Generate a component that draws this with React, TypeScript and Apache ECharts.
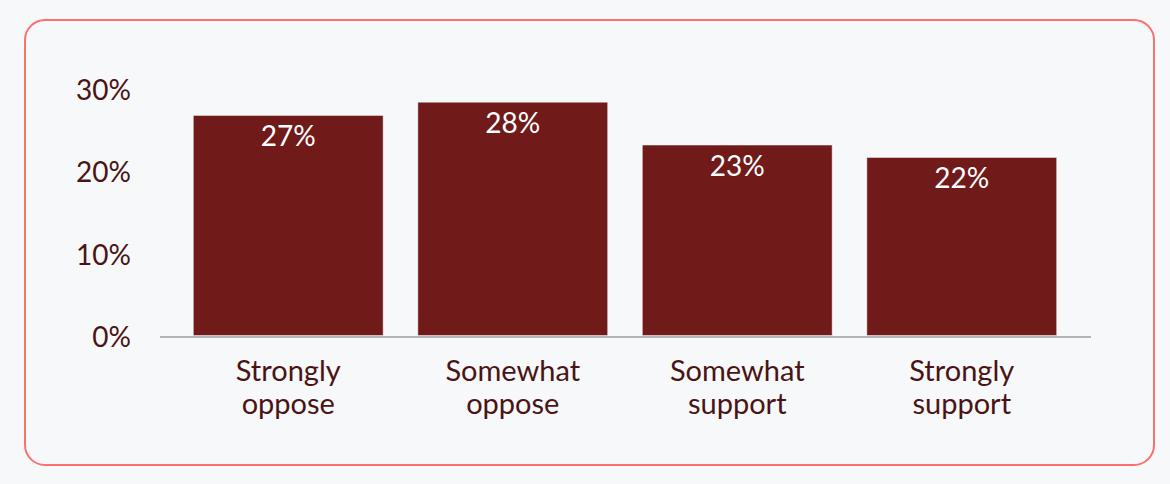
import React, { useEffect, useRef } from "react";
import * as echarts from "echarts";

const categories = ["Strongly\noppose", "Somewhat\noppose", "Somewhat\nsupport", "Strongly\nsupport"];
const values = [26.8, 28.4, 23.2, 21.7];
const yTicks = [0, 10, 20, 30];

const TEXT = "#4a1414";
const BAR = "#701a1a";

export default function App() {
  const ref = useRef<HTMLDivElement>(null);
  useEffect(() => {
    document.body.style.margin = "0";
    const chart = echarts.init(ref.current!, undefined, { renderer: "svg" });
    chart.setOption({
      animation: false,
      backgroundColor: "#f7f8fa",
      textStyle: { fontFamily: "Lato" },
      grid: { left: 176, right: 96, top: 88.5, bottom: 148, containLabel: false },
      graphic: [
        {
          type: "rect",
          shape: { x: 25, y: 20, width: 1129, height: 445, r: 20 },
          style: { fill: "none", stroke: "#ff6f6f", lineWidth: 2 },
          silent: true,
        },
        {
          type: "line",
          shape: { x1: 160, y1: 337, x2: 1091, y2: 337 },
          style: { stroke: "#b4b4b4", lineWidth: 2 },
          silent: true,
          z: 10,
        },
      ],
      xAxis: {
        type: "category",
        data: categories,
        axisLine: { show: false },
        axisTick: { show: false },
        axisLabel: { color: TEXT, fontSize: 29, lineHeight: 33, margin: 17, fontFamily: "Lato" },
      },
      yAxis: {
        type: "value",
        min: 0,
        max: yTicks[yTicks.length - 1],
        interval: 10,
        splitLine: { show: false },
        axisLine: { show: false },
        axisTick: { show: false },
        axisLabel: { color: TEXT, fontSize: 28, margin: 45, formatter: (v: number) => v + "%", fontFamily: "Lato" },
      },
      series: [
        {
          type: "bar",
          data: values,
          barCategoryGap: "15%",
          itemStyle: { color: BAR, borderColor: "rgba(255,255,255,0.45)", borderWidth: 1 },
          label: {
            show: true,
            position: "insideTop",
            distance: 6,
            color: "#ffffff",
            fontSize: 28,
            fontFamily: "Lato",
            formatter: (p: any) => Math.round(p.value) + "%",
          },
        },
      ],
    });
    return () => chart.dispose();
  }, []);
  return <div ref={ref} style={{ width: 1170, height: 484 }} />;
}
